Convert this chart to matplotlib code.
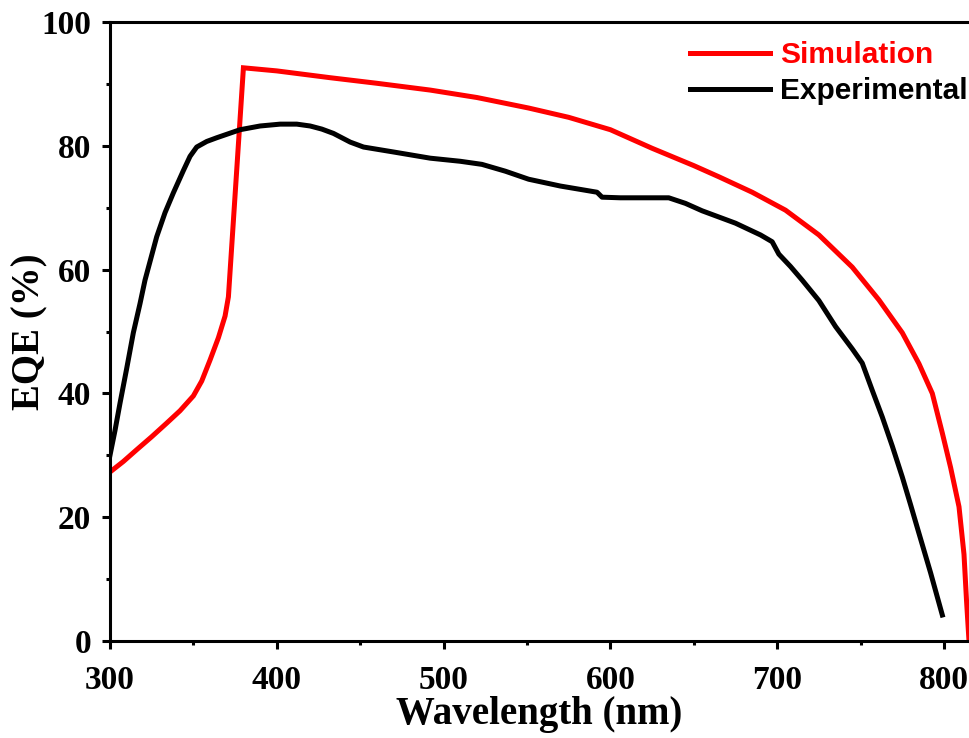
import matplotlib.pyplot as plt
from matplotlib.ticker import MultipleLocator

# EQE spectra
sim_wl = [300, 308, 316, 325, 334, 342, 350, 355, 360, 365, 369, 371, 380,
          400, 432, 460, 492, 520, 551, 575, 600, 625, 650, 665, 685, 705,
          725, 745, 761, 775, 785, 793, 799, 804, 809, 812, 813.5, 815]
sim_eqe = [27.3, 29.0, 30.9, 33.0, 35.2, 37.2, 39.6, 42.0, 45.4, 49.0, 52.5, 55.6, 92.6,
           92.1, 91.0, 90.1, 89.0, 87.8, 86.1, 84.6, 82.6, 79.6, 76.8, 75.0, 72.5, 69.6,
           65.6, 60.4, 55.1, 49.8, 44.8, 40.0, 33.6, 28.0, 21.7, 14.0, 6.6, 0.0]

exp_wl = [300, 303, 306, 310, 314, 318, 321, 325, 328, 333, 338, 344, 348, 352,
          358, 364, 378, 390, 402, 412, 420, 427, 434, 444, 452, 470, 492, 510,
          523, 537, 551, 570, 592, 595, 606, 635, 645, 655, 675, 690, 697, 701,
          708, 715, 725, 735, 745, 751, 757, 763, 769, 775, 780, 785, 792, 799]
exp_eqe = [30.0, 34.0, 38.4, 44.0, 49.8, 54.5, 58.3, 62.3, 65.3, 69.2, 72.4, 76.0, 78.3, 79.8,
           80.7, 81.3, 82.6, 83.2, 83.5, 83.5, 83.2, 82.7, 82.0, 80.6, 79.8, 79.0, 78.0, 77.5,
           77.0, 75.9, 74.6, 73.5, 72.5, 71.7, 71.6, 71.6, 70.7, 69.5, 67.5, 65.6, 64.5, 62.5,
           60.5, 58.3, 55.0, 50.8, 47.2, 44.9, 40.5, 36.2, 31.5, 26.5, 22.0, 17.4, 11.0, 4.2]

serif = 'Liberation Serif'

fig = plt.figure(figsize=(9.69, 7.38), dpi=100)
ax = fig.add_axes([0.1135, 0.1314, 0.8865, 0.8388])

ax.plot(sim_wl, sim_eqe, color='#ff0000', lw=3.6, solid_joinstyle='miter', label='Simulation')
ax.plot(exp_wl, exp_eqe, color='black', lw=3.6, label='Experimental')

ax.set_xlim(300, 815)
ax.set_ylim(0, 100)
ax.xaxis.set_major_locator(MultipleLocator(100))
ax.xaxis.set_minor_locator(MultipleLocator(50))
ax.yaxis.set_major_locator(MultipleLocator(20))
ax.yaxis.set_minor_locator(MultipleLocator(10))

ax.spines['right'].set_visible(False)
for s in ['left', 'bottom', 'top']:
    ax.spines[s].set_linewidth(2.2)

ax.tick_params(which='major', direction='out', length=6, width=2.2)
ax.tick_params(which='minor', direction='out', length=3, width=2.2)
ax.tick_params(axis='x', which='major', pad=11)
ax.tick_params(axis='y', which='major', pad=7.5)
ax.tick_params(top=False, right=False)
for lab in ax.get_xticklabels() + ax.get_yticklabels():
    lab.set_fontfamily(serif)
    lab.set_fontweight('bold')
    lab.set_fontsize(24)

ax.set_xlabel('Wavelength (nm)', fontfamily=serif, fontweight='bold', fontsize=28, labelpad=0)
ax.set_ylabel('EQE (%)', fontfamily=serif, fontweight='bold', fontsize=28, labelpad=-5)

leg = ax.legend(loc='upper left', bbox_to_anchor=(690 / 969, 1 - 41 / 738),
                bbox_transform=fig.transFigure, frameon=False, borderpad=0, borderaxespad=0,
                handlelength=2.68, handletextpad=0.33, labelspacing=0.27,
                labelcolor='linecolor',
                prop={'family': 'Liberation Sans', 'weight': 'bold', 'size': 21.5})

fig.savefig('out.png', dpi=100)
